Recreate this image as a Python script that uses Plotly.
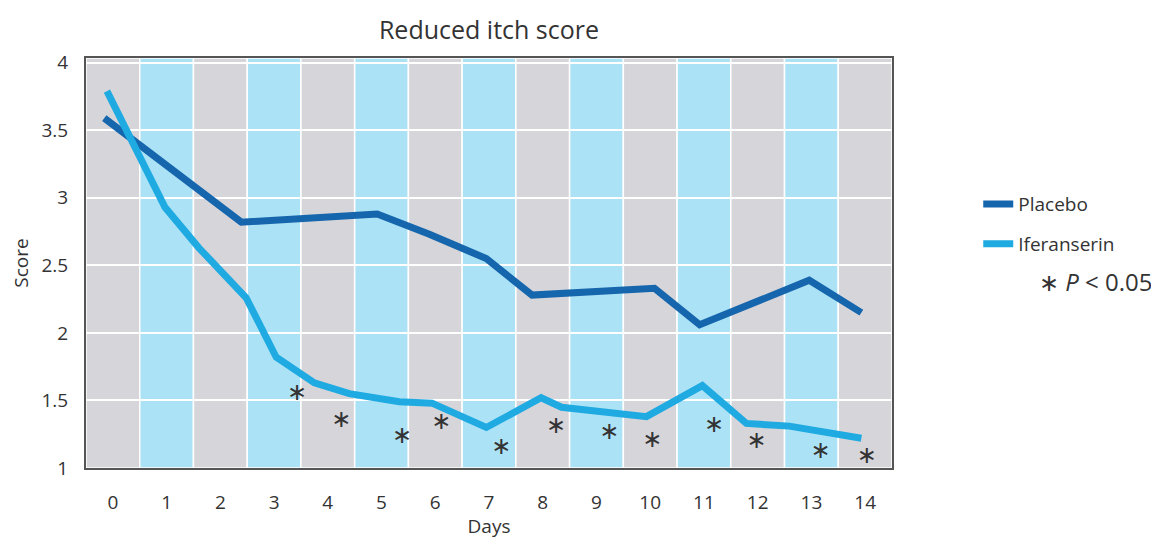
import plotly.graph_objects as go

# ---- data ----
days = list(range(0, 15))
y_ticks = [1, 1.5, 2, 2.5, 3, 3.5, 4]
y_tick_text = ["1", "1.5", "2", "2.5", "3", "3.5", "4"]

placebo_x = [-0.16, 2.39, 4.92, 5.89, 6.95, 7.8, 10.08, 10.92, 12.96, 13.93]
placebo_y = [3.59, 2.82, 2.88, 2.73, 2.55, 2.28, 2.33, 2.06, 2.39, 2.15]

ifer_x = [-0.11, 0.97, 1.6, 2.48, 3.04, 3.75, 4.4, 5.33, 5.94, 6.95, 7.97, 8.35,
          9.93, 10.97, 11.79, 12.59, 13.93]
ifer_y = [3.79, 2.93, 2.63, 2.26, 1.82, 1.63, 1.55, 1.49, 1.48, 1.30, 1.52, 1.45,
          1.38, 1.61, 1.33, 1.31, 1.22]

sig_x = [3.43, 4.25, 5.38, 6.11, 7.23, 8.25, 9.24, 10.04, 11.19, 11.98, 13.17, 14.03]
sig_y = [1.55, 1.35, 1.23, 1.33, 1.15, 1.30, 1.26, 1.20, 1.31, 1.19, 1.12, 1.08]

# ---- styles ----
FONT = "Open Sans"
C_PLACEBO = "#1566ad"
C_IFER = "#20aae2"
C_GRAY = "#d6d5da"
C_BLUE = "#ace2f5"
C_TEXT = "#333333"

fig = go.Figure()

fig.add_trace(go.Scatter(
    x=placebo_x, y=placebo_y, mode="lines", name="Placebo",
    line=dict(color=C_PLACEBO, width=7), legendgroup="a"))
fig.add_trace(go.Scatter(
    x=ifer_x, y=ifer_y, mode="lines", name="Iferanserin",
    line=dict(color=C_IFER, width=7), legendgroup="b"))
fig.add_trace(go.Scatter(
    x=sig_x, y=sig_y, mode="text", text=["\u2217"] * len(sig_x),
    textfont=dict(family="DejaVu Sans", size=24, color=C_TEXT),
    textposition="middle center", showlegend=False, hoverinfo="skip"))

# alternating stripes per day
shapes = []
for i, d in enumerate(days):
    shapes.append(dict(
        type="rect", xref="x", yref="paper", x0=d - 0.5, x1=d + 0.5, y0=0, y1=1,
        fillcolor=C_GRAY if i % 2 == 0 else C_BLUE,
        line=dict(color="white", width=1.5), layer="below"))

fig.update_layout(
    width=1151, height=531,
    margin=dict(l=78, r=267, t=50, b=71),
    paper_bgcolor="white", plot_bgcolor=C_GRAY,
    font=dict(family=FONT, color=C_TEXT),
    title=dict(text="Reduced itch score", x=0.5, xref="paper", xanchor="center",
               y=0.958, yref="container", yanchor="middle",
               font=dict(size=25, color=C_TEXT)),
    shapes=shapes,
    showlegend=True,
    legend=dict(x=1.107, y=0.69, xanchor="left", yanchor="top",
                font=dict(size=19, color=C_TEXT), traceorder="grouped",
                tracegroupgap=12, bgcolor="rgba(0,0,0,0)"),
    annotations=[dict(text="\u2217 <i>P</i> < 0.05", xref="paper", yref="paper",
                      x=1.253, y=0.454, xanchor="center", yanchor="middle",
                      showarrow=False,
                      font=dict(size=24, color=C_TEXT, family=FONT))],
)

fig.update_xaxes(
    range=[-0.5, 14.5], tickvals=days, ticktext=[str(d) for d in days],
    showgrid=False, zeroline=False, automargin=False,
    showline=True, linecolor="#555555", linewidth=2, mirror=True,
    ticks="outside", ticklen=16, tickcolor="rgba(0,0,0,0)",
    tickfont=dict(size=19, color=C_TEXT),
    title=dict(text="Days", font=dict(size=19, color=C_TEXT), standoff=2))

fig.update_yaxes(
    range=[1.0, 4.035], tickvals=y_ticks, ticktext=y_tick_text,
    showgrid=True, gridcolor="white", gridwidth=2, zeroline=False, automargin=False,
    showline=True, linecolor="#555555", linewidth=2, mirror=True,
    ticks="outside", ticklen=12, tickcolor="rgba(0,0,0,0)",
    tickfont=dict(size=19, color=C_TEXT),
    title=dict(text="Score", font=dict(size=19, color=C_TEXT), standoff=10))

fig.write_html("out.html")
